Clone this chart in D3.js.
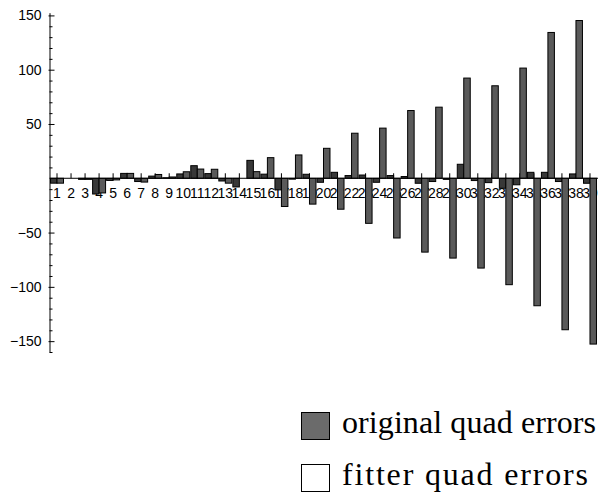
<!DOCTYPE html>
<html>
<head>
<meta charset="utf-8">
<script src="https://cdn.jsdelivr.net/npm/d3@7"></script>
<style>
  body { margin: 0; background: #fff; }
  svg { display: block; }
  .tick text { font-family: "Liberation Sans", Arial, sans-serif; }
</style>
</head>
<body>
<svg id="chart" width="604" height="494"></svg>
<script>
// ---- data ----
const categories = ["1","2","3","4","5","6","7","8","9","10","11","12","13","14","15","16","17","18","19","20",
  "21","22","23","24","25","26","27","28","29","30","31","32","33","34","35","36","37","38","39"];
const fitterErrors = [-4.5, 0, -1, -14.5, -2, 4.5, -3, 2, 0.5, 4, 11.6, 4.3, -2.5, -8, 16.5, 3.8, -10.7, -0.8, 3.7, -3.7,
  5.5, 2.5, 3, -3.7, 2.5, 1.6, -4.6, -3, -1, 12.9, -2.1, -4, -9.2, -6, 5.5, 5.5, -3, 4, -4.6];
const originalErrors = [-4.5, 0, -1, -13.5, -1.5, 4.5, -3.5, 3.5, 1.2, 6, 8.5, 8.3, -4.5, 0, 6.1, 19, -26, 21.5, -23.8, 27.6,
  -28.5, 41.5, -41.5, 46.2, -55, 62.4, -68, 65.5, -73.5, 92.3, -82.7, 85.2, -98, 101.5, -117.4, 134.3, -139.5, 145.3, -152.7];
const seriesNames = ["original quad errors", "fitter quad errors"];
const yMajorTicks = [-150, -100, -50, 50, 100, 150];

// ---- scales ----
const svg = d3.select("#chart");
const x = d3.scaleBand().domain(categories).range([50, 597]).paddingInner(0.075).paddingOuter(0.0375);
const sub = d3.scaleBand().domain(["fitter", "original"]).range([0, x.bandwidth()]);
const y = d3.scaleLinear().domain([-160, 152.5]).range([352, 12.7]);
const y0 = y(0);
const fmt = d => d < 0 ? "\u2212" + Math.abs(d) : String(d);

// ---- x axis (labels + small ticks) ----
const xAxis = svg.append("g")
  .attr("transform", `translate(0,${y0})`)
  .call(d3.axisBottom(x).tickSizeInner(-5).tickSizeOuter(0).tickPadding(10));
xAxis.select(".domain").remove();
xAxis.selectAll(".tick line").attr("stroke", "#000");
xAxis.selectAll(".tick text").attr("font-size", 14).attr("fill", "#000");

// ---- bars ----
const rows = categories.map((c, i) => ({ c, fitter: fitterErrors[i], original: originalErrors[i] }));
const g = svg.append("g");
const colors = { fitter: "#383838", original: "#5a5a5a" };
rows.forEach(r => {
  ["fitter", "original"].forEach(k => {
    const v = r[k];
    g.append("rect")
      .attr("x", x(r.c) + sub(k))
      .attr("width", sub.bandwidth())
      .attr("y", Math.min(y(v), y0))
      .attr("height", Math.abs(y(v) - y0))
      .attr("fill", colors[k])
      .attr("stroke", "#000")
      .attr("stroke-width", 1);
  });
});

// zero line on top
svg.append("line")
  .attr("x1", 49.5).attr("x2", 598)
  .attr("y1", y0).attr("y2", y0)
  .attr("stroke", "#000").attr("stroke-width", 1);

// ---- y axis ----
const minorTicks = d3.range(-160, 153, 10).filter(v => v % 50 !== 0);
const yMinor = svg.append("g")
  .attr("transform", "translate(49.5,0)")
  .call(d3.axisLeft(y).tickValues(minorTicks).tickSizeInner(-3).tickSizeOuter(0).tickFormat(""));
yMinor.select(".domain").remove();

const yAxis = svg.append("g")
  .attr("transform", "translate(49.5,0)")
  .call(d3.axisLeft(y).tickValues(yMajorTicks).tickSizeInner(-5).tickSizeOuter(0).tickPadding(8).tickFormat(fmt));
yAxis.select(".domain").attr("stroke", "#000");
yAxis.selectAll(".tick line").attr("x1", -1);
yAxis.selectAll(".tick text").attr("font-size", 14).attr("fill", "#000");

// ---- legend ----
const legend = svg.append("g");
const legendFills = ["#6b6b6b", "#ffffff"];
const legendY = [412, 464];
const legendTextWidth = [254, 246];
seriesNames.forEach((name, i) => {
  legend.append("rect")
    .attr("x", 301.5).attr("y", legendY[i] + 0.5)
    .attr("width", 28).attr("height", 27)
    .attr("fill", legendFills[i]).attr("stroke", "#000").attr("stroke-width", 1);
  legend.append("text")
    .attr("x", 342).attr("y", legendY[i] + 21)
    .attr("font-family", "'Liberation Serif', 'Times New Roman', serif")
    .attr("font-size", 32)
    .attr("textLength", legendTextWidth[i])
    .attr("lengthAdjust", "spacing")
    .attr("fill", "#000")
    .text(name);
});
</script>
</body>
</html>
